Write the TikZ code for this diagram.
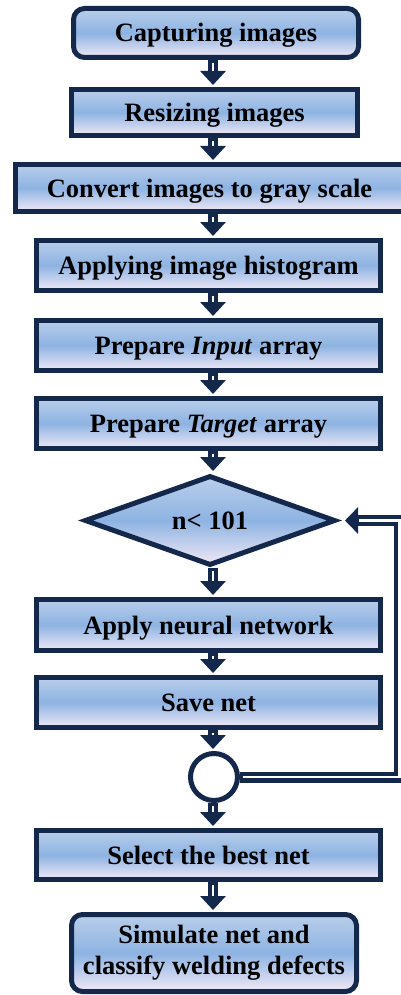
\documentclass[tikz,border=0pt]{standalone}
\usepackage{fontspec}
\setmainfont{Liberation Serif}
\usetikzlibrary{shapes.geometric,arrows.meta,calc}
\definecolor{bord}{HTML}{13284A}
\definecolor{topc}{HTML}{B9CEEA}
\definecolor{midc}{HTML}{8DB3E2}
\definecolor{botc}{HTML}{F1E9F6}
\tikzset{
  boxfill/.style={top color=topc, bottom color=botc, middle color=midc},
  stepbox/.style={draw=bord, line width=5pt, boxfill, rectangle, inner sep=0pt,
    font=\fontsize{26.5}{31}\selectfont\bfseries, align=center},
  oneline/.style={text height=18pt, text depth=0pt},
  roundbox/.style={stepbox, rounded corners=11pt},
  decision/.style={draw=bord, line width=5pt, boxfill, diamond, aspect=2.8, inner sep=0pt,
    minimum width=251pt, minimum height=90pt, font=\fontsize{26.5}{31}\selectfont\bfseries, oneline},
  junction/.style={draw=bord, line width=5pt, fill=white, circle, minimum size=47pt, inner sep=0pt},
  shaft/.style={draw=bord, line width=10pt, shorten >=2pt, -{Triangle[width=25pt,length=14pt]}},
  stripe/.style={draw=white, line width=2.2pt, shorten <=2.6pt, shorten >=16pt},
  fbshaft/.style={draw=bord, line width=11pt, -{Triangle[width=26pt,length=13pt]}},
  fbstripe/.style={draw=white, line width=2.2pt, shorten <=2.6pt, shorten >=14pt},
}
\newcommand\flowarrow[2]{\draw[shaft] (#1) -- (#2); \draw[stripe] (#1) -- (#2);}
\begin{document}
\begin{tikzpicture}[x=1pt,y=-1pt]
\useasboundingbox (0,0) rectangle (401,995);
\coordinate (ax) at (213,0);
\coordinate (fbx) at (399.5,0);
\node[roundbox, oneline, minimum width=285pt, minimum height=49pt] (cap) at (216,33) {Capturing images};
\node[stepbox, oneline, minimum width=286pt, minimum height=46pt] (res) at (214.5,112.5) {Resizing images};
\node[stepbox, oneline, minimum width=388pt, minimum height=47pt] (conv) at (209.5,188) {Convert images to gray scale};
\node[stepbox, oneline, minimum width=344pt, minimum height=50pt] (hist) at (208.5,265.5) {Applying image histogram};
\node[stepbox, oneline, minimum width=344pt, minimum height=50pt] (inp) at (208.5,345.5) {Prepare \textit{Input} array};
\node[stepbox, oneline, minimum width=344pt, minimum height=50pt] (tgt) at (208.5,423.5) {Prepare \textit{Target} array};
\node[decision] (dia) at (210,520.5) {n< 101};
\node[stepbox, oneline, minimum width=344pt, minimum height=51pt] (ann) at (208.5,625) {Apply neural network};
\node[stepbox, oneline, minimum width=344pt, minimum height=50pt] (save) at (208.5,702.5) {Save net};
\node[junction] (circ) at (214,777) {};
\node[stepbox, oneline, minimum width=344pt, minimum height=49pt] (sel) at (208.5,855) {Select the best net};
\node[roundbox, minimum width=285pt, minimum height=77pt] (sim) at (214,953) {Simulate net and\\classify welding defects};
\flowarrow{cap.south -| ax}{res.north -| ax}
\flowarrow{res.south -| ax}{conv.north -| ax}
\flowarrow{conv.south -| ax}{hist.north -| ax}
\flowarrow{hist.south -| ax}{inp.north -| ax}
\flowarrow{inp.south -| ax}{tgt.north -| ax}
\flowarrow{tgt.south -| ax}{dia.north -| ax}
\flowarrow{dia.south -| ax}{ann.north -| ax}
\flowarrow{ann.south -| ax}{save.north -| ax}
\flowarrow{save.south -| ax}{circ.north -| ax}
\flowarrow{circ.south -| ax}{sel.north -| ax}
\flowarrow{sel.south -| ax}{sim.north -| ax}
\coordinate (dtip) at ($(dia.east)+(7,0)$);
\draw[fbshaft] (circ.east) -- (fbx |- circ.east) -- (fbx |- dia.east) -- (dtip);
\draw[fbstripe] (circ.east) -- (fbx |- circ.east) -- (fbx |- dia.east) -- (dtip);
\end{tikzpicture}
\end{document}
